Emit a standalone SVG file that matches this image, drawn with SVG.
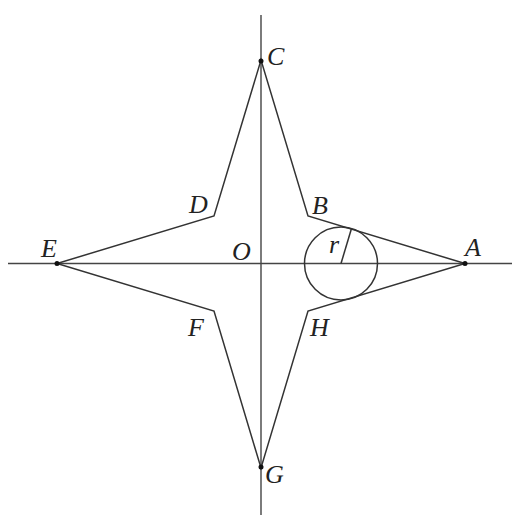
<svg xmlns="http://www.w3.org/2000/svg" width="517" height="520" viewBox="0 0 517 520">
<style>
.ax{stroke:#444;stroke-width:1.4;fill:none}
.ln{stroke:#333;stroke-width:1.5;fill:none}
.lb{font-family:"Liberation Serif",serif;font-style:italic;font-size:26px;fill:#222}
.pt{fill:#111}
</style>
<rect width="517" height="520" fill="#fff"/>
<g id="connectors">
<line class="ax" x1="261" y1="15" x2="261" y2="515"/>
<line class="ax" x1="8" y1="263.5" x2="512" y2="263.5"/>
<polygon class="ln" points="465,263.5 308,216 261,60 214,216 57,263.5 214,311 261,468 308,311"/>
<line class="ln" x1="341" y1="263.5" x2="351.5" y2="228.5"/>
</g>
<g id="circle"><circle class="ln" cx="341" cy="263.5" r="36.5"/></g>
<g id="A"><circle class="pt" cx="465" cy="263.5" r="2.5"/><text class="lb" x="465" y="256">A</text></g>
<g id="B"><text class="lb" x="312" y="214">B</text></g>
<g id="C"><circle class="pt" cx="261" cy="61" r="2.5"/><text class="lb" x="267" y="65">C</text></g>
<g id="D"><text class="lb" x="189" y="213">D</text></g>
<g id="E"><circle class="pt" cx="57" cy="263.5" r="2.5"/><text class="lb" x="41" y="257">E</text></g>
<g id="F"><text class="lb" x="188" y="336">F</text></g>
<g id="G"><circle class="pt" cx="261" cy="467" r="2.5"/><text class="lb" x="265" y="483">G</text></g>
<g id="H"><text class="lb" x="310" y="336">H</text></g>
<g id="O"><text class="lb" x="232" y="260">O</text></g>
<g id="r"><text class="lb" x="329" y="253">r</text></g>
</svg>
